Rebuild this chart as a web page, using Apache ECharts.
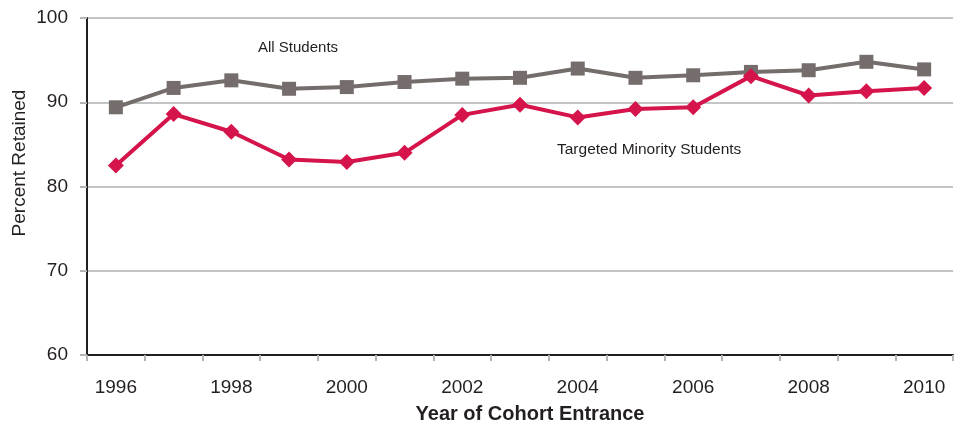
<!DOCTYPE html>
<html>
<head>
<meta charset="utf-8">
<script src="https://cdn.jsdelivr.net/npm/echarts@6/dist/echarts.min.js"></script>
<style>
  html, body { margin: 0; padding: 0; background: #fff; }
  #chart { width: 961px; height: 426px; }
</style>
</head>
<body>
<div id="chart"></div>
<script>
// Cohort entrance years
const years = ['1996','1997','1998','1999','2000','2001','2002','2003','2004','2005','2006','2007','2008','2009','2010'];
// Percent retained, all students
const allStudents = [89.4, 91.7, 92.6, 91.6, 91.8, 92.4, 92.8, 92.9, 94.0, 92.9, 93.2, 93.6, 93.8, 94.8, 93.9];
// Percent retained, targeted minority students
const minorityStudents = [82.5, 88.6, 86.5, 83.2, 82.9, 84.0, 88.5, 89.7, 88.2, 89.2, 89.4, 93.1, 90.8, 91.3, 91.7];

const FONT = 'Liberation Sans, Arial, sans-serif';
const chart = echarts.init(document.getElementById('chart'));
chart.setOption({
  animation: false,
  backgroundColor: '#ffffff',
  grid: { left: 87, right: 8, top: 18, bottom: 71 },
  xAxis: {
    type: 'category',
    data: years,
    boundaryGap: true,
    axisLine: { lineStyle: { color: '#231f20', width: 2 } },
    axisTick: { show: true, length: 6, interval: 0, lineStyle: { color: '#b5b5b5', width: 2 } },
    axisLabel: { interval: 1, margin: 23, fontFamily: FONT, fontSize: 19, color: '#231f20' },
    splitLine: { show: false }
  },
  yAxis: {
    type: 'value',
    min: 60,
    max: 100,
    interval: 10,
    axisLine: { show: true, lineStyle: { color: '#231f20', width: 2 } },
    axisTick: { show: true, length: 7, lineStyle: { color: '#b5b5b5', width: 2 } },
    axisLabel: { margin: 19, fontFamily: FONT, fontSize: 19, color: '#231f20' },
    splitLine: { lineStyle: { color: '#c4c4c4', width: 2 } }
  },
  series: [
    {
      name: 'All Students',
      type: 'line',
      data: allStudents,
      symbol: 'rect',
      symbolSize: 14,
      lineStyle: { color: '#746d6c', width: 4 },
      itemStyle: { color: '#746d6c' },
      z: 2
    },
    {
      name: 'Targeted Minority Students',
      type: 'line',
      data: minorityStudents,
      symbol: 'diamond',
      symbolSize: 16,
      lineStyle: { color: '#d4144a', width: 4 },
      itemStyle: { color: '#d4144a' },
      z: 3
    }
  ],
  graphic: [
    // axis titles
    {
      type: 'text', x: 20, y: 163, rotation: Math.PI / 2,
      style: { text: 'Percent Retained', font: '19px ' + FONT, fill: '#231f20', align: 'center', verticalAlign: 'middle' }
    },
    {
      type: 'text', x: 530, y: 414,
      style: { text: 'Year of Cohort Entrance', font: 'bold 20px ' + FONT, fill: '#231f20', align: 'center', verticalAlign: 'middle' }
    },
    // series annotations
    {
      type: 'text', left: 258, top: 40,
      style: { text: 'All Students', font: '15px ' + FONT, fill: '#231f20' }
    },
    {
      type: 'text', left: 557, top: 142,
      style: { text: 'Targeted Minority Students', font: '15.5px ' + FONT, fill: '#231f20' }
    }
  ]
});
</script>
</body>
</html>
